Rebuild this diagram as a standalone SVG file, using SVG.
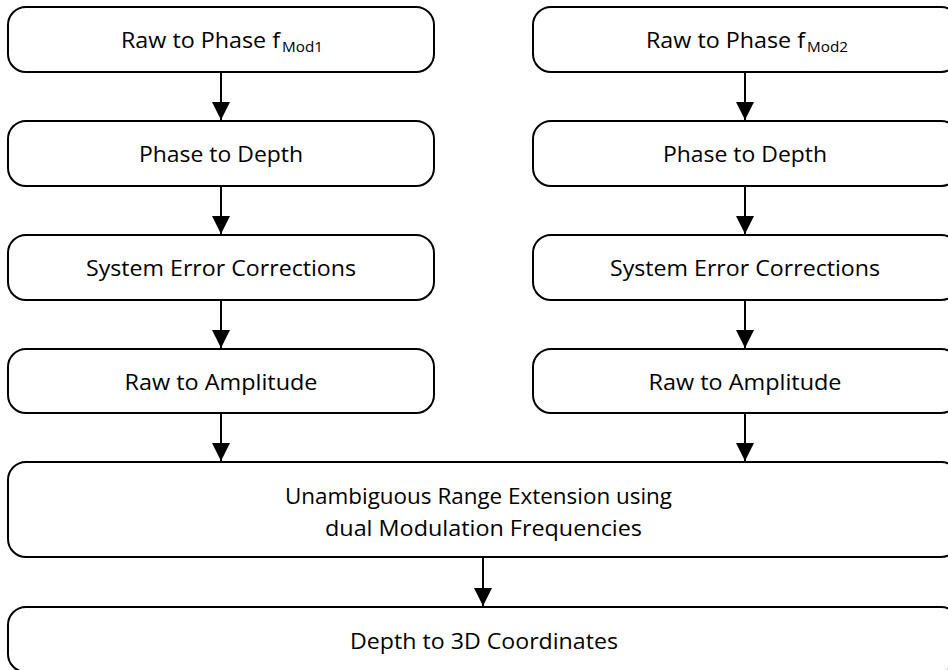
<svg xmlns="http://www.w3.org/2000/svg" width="948" height="670" viewBox="0 0 948 670">
  <defs>
    <marker id="arrow" markerWidth="18" markerHeight="18" viewBox="0 0 18 18" refX="18" refY="9" orient="auto" markerUnits="userSpaceOnUse">
      <path d="M0,0 L18,9 L0,18 Z" fill="#000"/>
    </marker>
    <style>
      .box { fill: #fff; stroke: #000; stroke-width: 2; }
      .lbl { font-family: "Open Sans", "Liberation Sans", sans-serif; font-size: 21.5px; fill: #000; text-anchor: middle; }
      .sub { font-size: 15px; }
      .edge { stroke: #000; stroke-width: 2; fill: none; marker-end: url(#arrow); }
    </style>
  </defs>
  <rect width="948" height="670" fill="#fff"/>

  <!-- left processing chain -->
  <g id="phase1">
    <rect class="box" x="8" y="7" width="426" height="65" rx="18"/>
    <text class="lbl" y="48" style="text-anchor:start"><tspan x="121" textLength="159" lengthAdjust="spacingAndGlyphs">Raw to Phase f</tspan><tspan class="sub" x="282" dy="4" textLength="41" lengthAdjust="spacingAndGlyphs">Mod1</tspan></text>
  </g>
  <g id="depth1">
    <rect class="box" x="8" y="121" width="426" height="65" rx="18"/>
    <text class="lbl" x="221" y="162" textLength="164" lengthAdjust="spacingAndGlyphs">Phase to Depth</text>
  </g>
  <g id="corr1">
    <rect class="box" x="8" y="235" width="426" height="65" rx="18"/>
    <text class="lbl" x="221" y="276" textLength="270" lengthAdjust="spacingAndGlyphs">System Error Corrections</text>
  </g>
  <g id="amp1">
    <rect class="box" x="8" y="349" width="426" height="64" rx="18"/>
    <text class="lbl" x="221" y="390" textLength="193" lengthAdjust="spacingAndGlyphs">Raw to Amplitude</text>
  </g>

  <!-- right processing chain -->
  <g id="phase2">
    <rect class="box" x="533" y="7" width="426" height="65" rx="18"/>
    <text class="lbl" y="48" style="text-anchor:start"><tspan x="646" textLength="159" lengthAdjust="spacingAndGlyphs">Raw to Phase f</tspan><tspan class="sub" x="807" dy="4" textLength="41" lengthAdjust="spacingAndGlyphs">Mod2</tspan></text>
  </g>
  <g id="depth2">
    <rect class="box" x="533" y="121" width="426" height="65" rx="18"/>
    <text class="lbl" x="745" y="162" textLength="164" lengthAdjust="spacingAndGlyphs">Phase to Depth</text>
  </g>
  <g id="corr2">
    <rect class="box" x="533" y="235" width="426" height="65" rx="18"/>
    <text class="lbl" x="745" y="276" textLength="270" lengthAdjust="spacingAndGlyphs">System Error Corrections</text>
  </g>
  <g id="amp2">
    <rect class="box" x="533" y="349" width="426" height="64" rx="18"/>
    <text class="lbl" x="745" y="390" textLength="193" lengthAdjust="spacingAndGlyphs">Raw to Amplitude</text>
  </g>

  <!-- merged stages -->
  <g id="unwrap">
    <rect class="box" x="8" y="462" width="951" height="95" rx="18"/>
    <text class="lbl" x="478.5" y="504" textLength="387" lengthAdjust="spacingAndGlyphs">Unambiguous Range Extension using</text>
    <text class="lbl" x="483.5" y="536" textLength="317" lengthAdjust="spacingAndGlyphs">dual Modulation Frequencies</text>
  </g>
  <g id="coords">
    <rect class="box" x="8" y="607" width="951" height="65" rx="18"/>
    <text class="lbl" x="484" y="649" textLength="268" lengthAdjust="spacingAndGlyphs">Depth to 3D Coordinates</text>
  </g>

  <!-- connectors -->
  <g id="connectors">
    <line class="edge" x1="221" y1="72" x2="221" y2="120"/>
    <line class="edge" x1="221" y1="186" x2="221" y2="234"/>
    <line class="edge" x1="221" y1="300" x2="221" y2="348"/>
    <line class="edge" x1="221" y1="413" x2="221" y2="461"/>
    <line class="edge" x1="745" y1="72" x2="745" y2="120"/>
    <line class="edge" x1="745" y1="186" x2="745" y2="234"/>
    <line class="edge" x1="745" y1="300" x2="745" y2="348"/>
    <line class="edge" x1="745" y1="413" x2="745" y2="461"/>
    <line class="edge" x1="483" y1="557" x2="483" y2="606"/>
  </g>
</svg>
